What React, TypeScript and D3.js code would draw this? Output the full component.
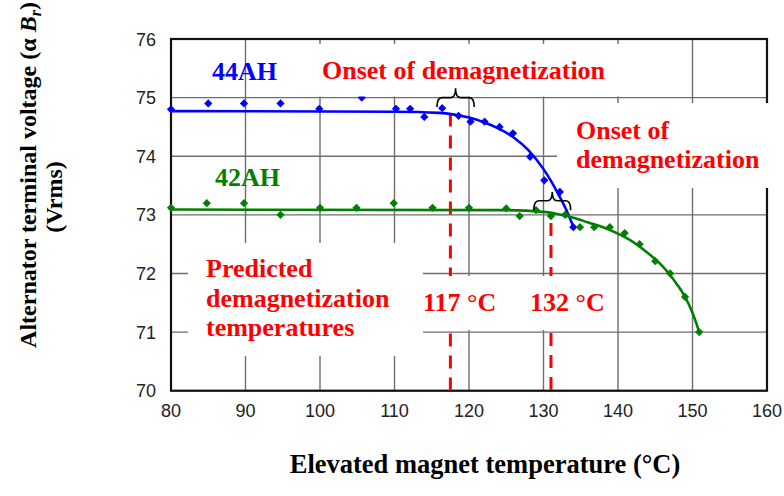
import React from "react";
import * as d3 from "d3";

// ---- data ----
const xTicks = [80, 90, 100, 110, 120, 130, 140, 150, 160];
const yTicks = [70, 71, 72, 73, 74, 75, 76];

const temp44 = [80, 85, 89.8, 94.7, 99.9, 105.6, 110.2, 112.1, 114, 116.4, 118.6, 120.2, 122.1, 124.1, 125.9, 128.2, 130.1, 132.2, 134];
const volt44 = [74.8, 74.9, 74.9, 74.9, 74.81, 75.0, 74.81, 74.81, 74.67, 74.82, 74.69, 74.59, 74.59, 74.5, 74.39, 73.99, 73.59, 73.39, 72.79];

const temp42 = [80, 84.8, 89.8, 94.7, 100, 104.9, 109.9, 115.1, 120, 125, 126.8, 129, 131, 132.9, 134.9, 136.8, 138.9, 140.9, 142.9, 145, 147, 149, 150.9];
const volt42 = [73.12, 73.2, 73.2, 73.0, 73.12, 73.12, 73.2, 73.12, 73.12, 73.11, 72.98, 73.08, 72.98, 73.0, 72.79, 72.79, 72.79, 72.69, 72.5, 72.21, 72.0, 71.6, 71.0];

const fitT44 = [80, 110, 116, 118, 120, 122, 124, 126, 128, 130, 131, 132, 133, 134];
const fitV44 = [74.77, 74.76, 74.74, 74.71, 74.66, 74.58, 74.47, 74.32, 74.1, 73.78, 73.58, 73.35, 73.1, 72.8];

const fitT42 = [80, 125, 130, 132, 134, 136, 138, 140, 142, 144, 146, 147, 148, 149, 150, 150.9];
const fitV42 = [73.09, 73.08, 73.05, 73.01, 72.95, 72.87, 72.79, 72.68, 72.54, 72.35, 72.12, 71.97, 71.8, 71.6, 71.33, 71.0];

// predicted demagnetization markers (temperature, top voltage)
const onsetT = [117.5, 131.0];
const onsetTopV = [74.73, 72.86];

// braces: [T start, T end, V ends, V mid, V tip]
const braceT0 = [115.7, 128.7];
const braceT1 = [120.7, 133.65];
const braceVEnd = [74.84, 73.08];
const braceVMid = [75.0, 73.24];
const braceVTip = [75.16, 73.39];

const W = 784;
const H = 496;
const serif = "'Liberation Serif', 'Times New Roman', serif";
const sans = "'Liberation Sans', Arial, sans-serif";
const BLUE = "#0000ff";
const GREEN = "#008000";
const RED = "#ff0000";

export default function App() {
  const x = d3.scaleLinear().domain([80, 160]).range([171, 767]);
  const y = d3.scaleLinear().domain([70, 76]).range([390.7, 39]);

  const line = d3
    .line<[number, number]>()
    .x((d) => x(d[0]))
    .y((d) => y(d[1]))
    .curve(d3.curveMonotoneX);

  const fit44 = fitT44.map((t, i) => [t, fitV44[i]] as [number, number]);
  const fit42 = fitT42.map((t, i) => [t, fitV42[i]] as [number, number]);
  const diamond = d3.symbol().type(d3.symbolSquare).size(34)()!;

  const bracePath = (i: number) => {
    const x0 = x(braceT0[i]);
    const x1 = x(braceT1[i]);
    const xc = (x0 + x1) / 2;
    const ye = y(braceVEnd[i]);
    const ym = y(braceVMid[i]);
    const yt = y(braceVTip[i]);
    const r = 5;
    return `M${x0},${ye} Q${x0},${ym} ${x0 + r},${ym} L${xc - r},${ym} Q${xc},${ym} ${xc},${yt} Q${xc},${ym} ${xc + r},${ym} L${x1 - r},${ym} Q${x1},${ym} ${x1},${ye}`;
  };

  const [x0, x1] = x.range();
  const [y0, y1] = y.range();

  const textStyle = { fontFamily: serif, fontWeight: 700 as const, fontSize: 26 };

  return (
    <svg
      width={W}
      height={H}
      viewBox={`0 0 ${W} ${H}`}
      style={{ position: "absolute", left: 0, top: 0, background: "#fff" }}
    >
      <rect x={0} y={0} width={W} height={H} fill="#fff" />
      {/* gridlines */}
      {xTicks.map((t) => (
        <line key={"gx" + t} x1={x(t)} x2={x(t)} y1={y1} y2={y0} stroke="#6e6e6e" strokeWidth={1.4} />
      ))}
      {yTicks.map((t) => (
        <line key={"gy" + t} x1={x0} x2={x1} y1={y(t)} y2={y(t)} stroke="#6e6e6e" strokeWidth={1.4} />
      ))}
      {/* frame */}
      <rect x={x0} y={y1} width={x1 - x0} height={y0 - y1} fill="none" stroke="#111" strokeWidth={2.2} />

      {/* red dashed predicted temperatures */}
      {onsetT.map((t, i) => (
        <line
          key={"rd" + i}
          x1={x(t)}
          x2={x(t)}
          y1={y(onsetTopV[i])}
          y2={y0}
          stroke={RED}
          strokeWidth={3}
          strokeDasharray="13 9"
        />
      ))}

      {/* white text boxes */}
      <rect x={557} y={103} width={227} height={85} fill="#fff" />
      <rect x={188} y={243} width={235} height={113} fill="#fff" />
      <rect x={423} y={276} width={188} height={54} fill="#fff" />

      {/* fit lines */}
      <path d={line(fit44)!} fill="none" stroke={BLUE} strokeWidth={2.6} />
      <path d={line(fit42)!} fill="none" stroke={GREEN} strokeWidth={2.6} />

      {/* markers */}
      {temp44.map((t, i) => (
        <path key={"b" + i} d={diamond} transform={`translate(${x(t)},${y(volt44[i])}) rotate(45)`} fill={BLUE} />
      ))}
      {temp42.map((t, i) => (
        <path key={"g" + i} d={diamond} transform={`translate(${x(t)},${y(volt42[i])}) rotate(45)`} fill={GREEN} />
      ))}

      {/* top box */}
      <rect x={300} y={44} width={330} height={52.5} fill="#fff" />

      {/* braces */}
      {braceT0.map((_, i) => (
        <path key={"br" + i} d={bracePath(i)} fill="none" stroke="#000" strokeWidth={1.6} />
      ))}

      {/* annotations */}
      <text x={212} y={80} fill={BLUE} {...textStyle}>44AH</text>
      <text x={215} y={186} fill={GREEN} {...textStyle}>42AH</text>
      <text x={322} y={78.5} fill={RED} {...textStyle}>Onset of demagnetization</text>
      <text x={576} y={138.5} fill={RED} {...textStyle}>Onset of</text>
      <text x={576} y={168} fill={RED} {...textStyle}>demagnetization</text>
      <text x={206} y={277} fill={RED} {...textStyle}>Predicted</text>
      <text x={206} y={306.5} fill={RED} {...textStyle}>demagnetization</text>
      <text x={206} y={336} fill={RED} {...textStyle}>temperatures</text>
      <text x={423} y={311} fill={RED} {...textStyle}>117 °C</text>
      <text x={530} y={311} fill={RED} {...textStyle}>132 °C</text>

      {/* tick labels */}
      {yTicks.map((t) => (
        <text key={"yl" + t} x={156} y={y(t) + 6.5} textAnchor="end" fontFamily={sans} fontSize={18} fill="#222">
          {t}
        </text>
      ))}
      {xTicks.map((t) => (
        <text key={"xl" + t} x={x(t)} y={417} textAnchor="middle" fontFamily={sans} fontSize={18} fill="#222">
          {t}
        </text>
      ))}

      {/* axis titles */}
      <text x={485} y={473} textAnchor="middle" fontFamily={serif} fontWeight={700} fontSize={26.5} fill="#000">
        Elevated magnet temperature (°C)
      </text>
      <g transform="translate(36,175) rotate(-90)">
        <text x={0} y={0} textAnchor="middle" fontFamily={serif} fontWeight={700} fontSize={24} fill="#000">
          Alternator terminal voltage (α <tspan fontStyle="italic">B</tspan>
          <tspan fontStyle="italic" fontSize={16} dy={5}>r</tspan>
          <tspan dy={-5}>)</tspan>
        </text>
      </g>
      <g transform="translate(62,197) rotate(-90)">
        <text x={0} y={0} textAnchor="middle" fontFamily={serif} fontWeight={700} fontSize={24} fill="#000">
          (Vrms)
        </text>
      </g>
    </svg>
  );
}
